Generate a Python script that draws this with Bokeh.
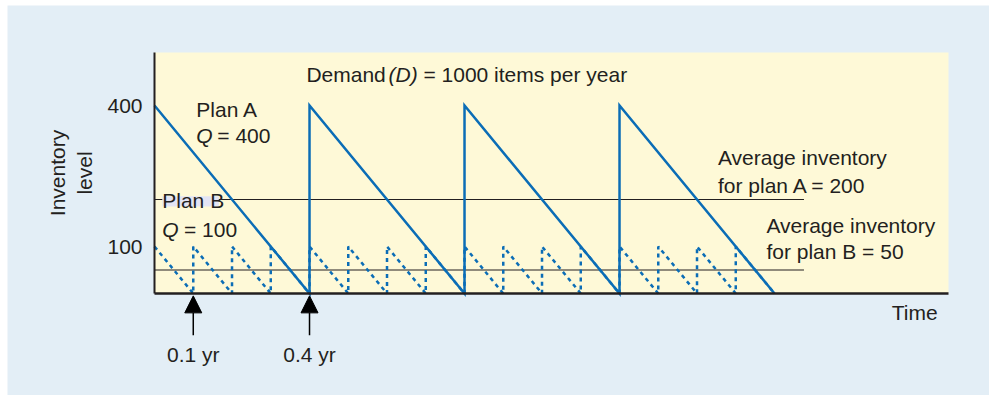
from bokeh.plotting import figure
from bokeh.models import Range1d, Label, Arrow, NormalHead, FixedTicker, BoxAnnotation
from bokeh.embed import file_html
from bokeh.resources import INLINE

# ---- data ----
plan_a_t = [0.0, 0.4, 0.4, 0.8, 0.8, 1.2, 1.2, 1.6]
plan_a_q = [400, 0, 400, 0, 400, 0, 400, 0]

plan_b_t = [0.0, 0.1, 0.1, 0.2, 0.2, 0.3, 0.3, 0.4, 0.4, 0.5, 0.5, 0.6, 0.6, 0.7, 0.7, 0.8,
            0.8, 0.9, 0.9, 1.0, 1.0, 1.1, 1.1, 1.2, 1.2, 1.3, 1.3, 1.4, 1.4, 1.5, 1.5, 1.6]
plan_b_q = [100, 0, 100, 0, 100, 0, 100, 0, 100, 0, 100, 0, 100, 0, 100, 0,
            100, 0, 100, 0, 100, 0, 100, 0, 100, 0, 100, 0, 100, 0, 100, 0]

avg_levels = [200, 50]
avg_t_start = [0.0, 0.0]
avg_t_end = [1.676, 1.676]

y_ticks = [100, 400]
arrow_times = [0.1, 0.4]
arrow_labels = ["0.1 yr", "0.4 yr"]

T_MAX = 2.049      # right end of the time axis
Q_MAX = 512.8      # top of the inventory axis

PANEL = "#e3eef6"
FRAME = "#fef9d7"
BLUE = "#0b6db6"
INK = "#231f20"
FONT = "Liberation Sans"
FS = "21px"

p = figure(width=982, height=390, output_backend="svg", toolbar_location=None,
           x_range=Range1d(-0.3794, 2.1548), y_range=Range1d(-217.0, 612.8),
           min_border_left=0, min_border_right=0, min_border_top=0, min_border_bottom=0)
p.margin = (5, 0, 0, 7)
p.border_fill_color = PANEL
p.background_fill_color = PANEL
p.outline_line_color = None
p.grid.visible = False

# yellow chart area
p.add_layout(BoxAnnotation(left=0, right=T_MAX, bottom=0, top=Q_MAX,
                           fill_color=FRAME, fill_alpha=1, line_color=None, level="underlay"))

# axes
yax = p.yaxis[0]
yax.fixed_location = 0
yax.bounds = (0, Q_MAX)
yax.ticker = FixedTicker(ticks=y_ticks)
yax.major_tick_out = 0
yax.major_tick_in = 0
yax.minor_tick_out = 0
yax.minor_tick_in = 0
yax.axis_line_width = 2
yax.axis_line_color = INK
yax.major_label_text_font = FONT
yax.major_label_text_font_size = FS
yax.major_label_text_color = INK
yax.major_label_standoff = 12
yax.axis_label = "Inventory\nlevel"
yax.axis_label_text_font = FONT
yax.axis_label_text_font_size = FS
yax.axis_label_text_font_style = "normal"
yax.axis_label_text_color = INK
yax.axis_label_standoff = 8

xax = p.xaxis[0]
xax.fixed_location = 0
xax.bounds = (0, T_MAX)
xax.ticker = FixedTicker(ticks=[])
xax.major_tick_out = 0
xax.minor_tick_out = 0
xax.major_label_text_font_size = "0px"
xax.axis_line_width = 2.5
xax.axis_line_color = INK

# average lines
p.segment(x0=avg_t_start, y0=avg_levels, x1=avg_t_end, y1=avg_levels,
          line_color=INK, line_width=1.2)

# plan B dashed sawtooth
p.line(plan_b_t, plan_b_q, line_color=BLUE, line_width=2.5, line_dash="4 4")
# plan A solid sawtooth
p.line(plan_a_t, plan_a_q, line_color=BLUE, line_width=2.5, line_join="miter")

# light highlight behind the "Plan B" label
p.add_layout(BoxAnnotation(left=0.02, right=0.166, bottom=185, top=207,
                           fill_color="#e3e4f4", fill_alpha=1, line_color=None))


def lab(x, y, text, style="normal", align="left", baseline="alphabetic", **kw):
    p.add_layout(Label(x=x, y=y, text=text, text_font=FONT, text_font_size=FS,
                       text_color=INK, text_font_style=style, text_align=align,
                       text_baseline=baseline, **kw))


lab(0.392, 467, "Demand")
lab(0.604, 467, "(D)", style="italic")
lab(0.694, 467, "= 1000 items per year")

lab(0.108, 392, "Plan A")
lab(0.108, 337, "Q", style="italic")
lab(0.162, 337, "= 400")

lab(0.02, 197, "Plan B")
lab(0.02, 137, "Q", style="italic")
lab(0.076, 137, "= 100")

lab(1.454, 289, "Average inventory")
lab(1.454, 230, "for plan A = 200")
lab(1.579, 145, "Average inventory")
lab(1.579, 89, "for plan B = 50")

lab(2.021, -40, "Time", align="right")

for t, txt in zip(arrow_times, arrow_labels):
    p.add_layout(Arrow(x_start=t, y_start=-89, x_end=t, y_end=-5,
                       line_color="black", line_width=1.5,
                       end=NormalHead(size=17, fill_color="black", line_color="black")))
    lab(t, -129, txt, align="center")

open("out.html", "w").write(file_html(p, INLINE))
